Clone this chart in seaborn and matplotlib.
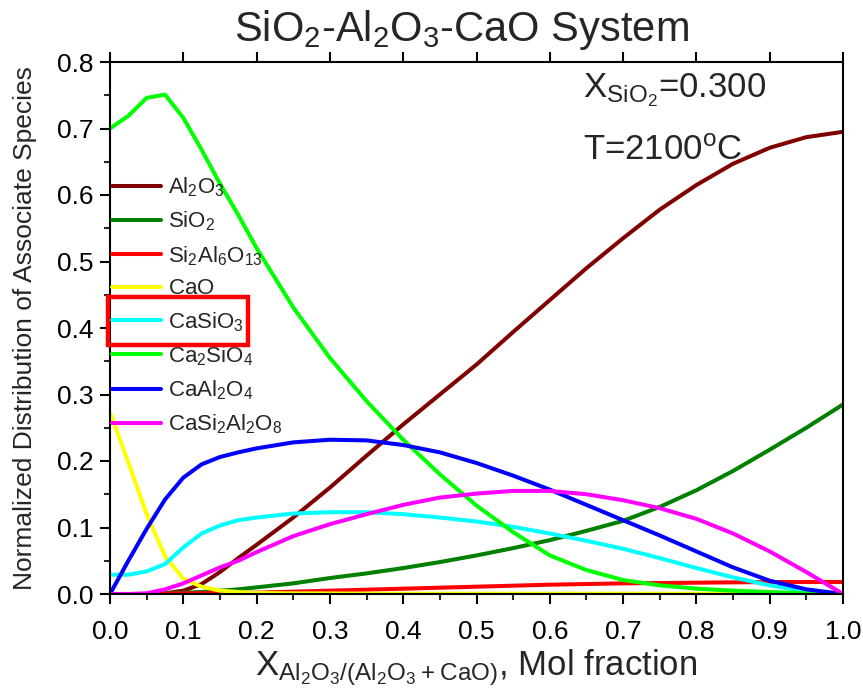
import numpy as np
import pandas as pd
import matplotlib
matplotlib.use("Agg")
import matplotlib.pyplot as plt
import seaborn as sns
from matplotlib.ticker import MultipleLocator
from matplotlib.patches import Rectangle

# ---------------- data ----------------
x_frac = [0.0, 0.025, 0.05, 0.075, 0.1, 0.125, 0.15, 0.175, 0.2, 0.25, 0.3, 0.35, 0.4, 0.45,
          0.5, 0.55, 0.6, 0.65, 0.7, 0.75, 0.8, 0.85, 0.9, 0.95, 1.0]

al2o3 = [0.0, 0.0, 0.0, 0.001, 0.005, 0.015, 0.033, 0.054, 0.074, 0.115, 0.16, 0.208, 0.255, 0.30,
         0.345, 0.394, 0.442, 0.49, 0.535, 0.578, 0.615, 0.647, 0.671, 0.687, 0.695]
sio2 = [0.0, 0.0, 0.0, 0.001, 0.002, 0.003, 0.005, 0.007, 0.01, 0.016, 0.024, 0.031, 0.039, 0.048,
        0.058, 0.069, 0.081, 0.095, 0.11, 0.131, 0.156, 0.185, 0.217, 0.25, 0.285]
si2al6o13 = [0.0, 0.0, 0.0, 0.0005, 0.001, 0.0012, 0.0015, 0.0018, 0.002, 0.0035, 0.005, 0.0065,
             0.008, 0.0095, 0.011, 0.0125, 0.014, 0.015, 0.016, 0.0165, 0.017, 0.0175, 0.018,
             0.018, 0.018]
cao = [0.273, 0.198, 0.12, 0.057, 0.023, 0.011, 0.005, 0.003, 0.0015, 0.001, 0.0008, 0.0006,
       0.0005, 0.0005, 0.0005, 0.0005, 0.0005, 0.0005, 0.0005, 0.0005, 0.0005, 0.0005, 0.0005,
       0.0005, 0.0005]
casio3 = [0.029, 0.029, 0.034, 0.045, 0.07, 0.091, 0.103, 0.111, 0.115, 0.121, 0.123, 0.123,
          0.12, 0.115, 0.109, 0.101, 0.091, 0.08, 0.068, 0.054, 0.039, 0.025, 0.013, 0.004, 0.0]
ca2sio4 = [0.70, 0.719, 0.746, 0.751, 0.716, 0.668, 0.617, 0.57, 0.52, 0.431, 0.355, 0.29,
           0.232, 0.18, 0.133, 0.093, 0.058, 0.036, 0.021, 0.013, 0.008, 0.005, 0.003, 0.001, 0.0]
caal2o4 = [0.0, 0.05, 0.098, 0.142, 0.175, 0.195, 0.206, 0.213, 0.219, 0.228, 0.232, 0.231,
           0.224, 0.213, 0.197, 0.178, 0.157, 0.134, 0.111, 0.088, 0.064, 0.04, 0.02, 0.007, 0.0]
casi2al2o8 = [0.0, 0.0, 0.001, 0.007, 0.016, 0.028, 0.04, 0.05, 0.063, 0.087, 0.105, 0.12,
              0.134, 0.145, 0.151, 0.155, 0.155, 0.15, 0.141, 0.129, 0.113, 0.091, 0.064,
              0.033, 0.0]

labels = [r"$\mathregular{Al_2O_3}$", r"$\mathregular{SiO_2}$", r"$\mathregular{Si_2Al_6O_{13}}$",
          r"$\mathregular{CaO}$", r"$\mathregular{CaSiO_3}$", r"$\mathregular{Ca_2SiO_4}$",
          r"$\mathregular{CaAl_2O_4}$", r"$\mathregular{CaSi_2Al_2O_8}$"]
colors = ["#800000", "#008000", "#ff0000", "#ffff00", "#00ffff", "#00ff00", "#0000ff", "#ff00ff"]
series = [al2o3, sio2, si2al6o13, cao, casio3, ca2sio4, caal2o4, casi2al2o8]

x_ticks = [0.0, 0.1, 0.2, 0.3, 0.4, 0.5, 0.6, 0.7, 0.8, 0.9, 1.0]
y_ticks = [0.0, 0.1, 0.2, 0.3, 0.4, 0.5, 0.6, 0.7, 0.8]

# ---------------- long-form table ----------------
df = pd.concat([pd.DataFrame({"x": x_frac, "value": s, "species": lab})
                for s, lab in zip(series, labels)], ignore_index=True)

# ---------------- style ----------------
sns.set_theme(style="white")
plt.rcParams["font.family"] = ["Liberation Sans", "DejaVu Sans"]
plt.rcParams["mathtext.default"] = "regular"
plt.rcParams["axes.edgecolor"] = "black"
plt.rcParams["axes.linewidth"] = 1.5

fig = plt.figure(figsize=(8.63, 6.95), dpi=100)
ax = fig.add_axes([110 / 863, 1 - 594 / 695, 733 / 863, 532 / 695])

sns.lineplot(data=df, x="x", y="value", hue="species", hue_order=labels,
             palette=dict(zip(labels, colors)), linewidth=2.9, ax=ax,
             sort=False, estimator=None)

ax.set_xlim(0, 1.0)
ax.set_ylim(0, 0.8)
ax.set_xticks(x_ticks)
ax.set_yticks(y_ticks)
ax.set_xticklabels([f"{t:.1f}" for t in x_ticks])
ax.set_yticklabels([f"{t:.1f}" for t in y_ticks])
ax.xaxis.set_minor_locator(MultipleLocator(0.05))
ax.yaxis.set_minor_locator(MultipleLocator(0.05))
ax.tick_params(which="major", direction="out", length=7, width=1.5, labelsize=19,
               bottom=True, left=True, top=True, right=False, labeltop=False, colors="black")
ax.tick_params(axis="x", which="major", pad=12)
ax.tick_params(axis="y", which="major", pad=5)
ax.tick_params(which="minor", direction="out", length=4, width=1.5,
               bottom=True, left=True, top=False, right=False)
for sp in ax.spines.values():
    sp.set_visible(True)
    sp.set_color("black")
    sp.set_linewidth(1.5)

ax.set_xlabel(r"$\mathregular{X_{Al_2O_3/(Al_2O_3+CaO)}}$, Mol fraction", fontsize=25)
ax.set_ylabel("Normalized Distribution of Associate Species", fontsize=19)
ax.xaxis.set_label_coords(0.5, -0.1)
ax.yaxis.set_label_coords(-0.10, 0.5)

ax.text(0.48, 1.06, r"SiO$_2$-Al$_2$O$_3$-CaO System", transform=ax.transAxes,
        fontsize=30, ha="center", va="center")
ax.text(0.645, 0.934, r"$\mathregular{X_{SiO_2}}$=0.300", transform=ax.transAxes,
        fontsize=25, ha="left", va="baseline")
ax.text(0.645, 0.816, r"T=2100$\mathregular{^o}$C", transform=ax.transAxes,
        fontsize=25, ha="left", va="baseline")

handles, labs = ax.get_legend_handles_labels()
ax.legend(handles, labs, loc="center left", bbox_to_anchor=(0.0, 0.5414),
          frameon=False, fontsize=16, handlelength=2.2, handletextpad=0.3,
          labelspacing=0.48, borderaxespad=0.0, borderpad=0.1)

ax.add_patch(Rectangle((-0.003, 0.468), 0.191, 0.090, transform=ax.transAxes,
                       fill=False, edgecolor="red", linewidth=3.2, clip_on=False, zorder=10))

fig.savefig("out.png", dpi=100)
